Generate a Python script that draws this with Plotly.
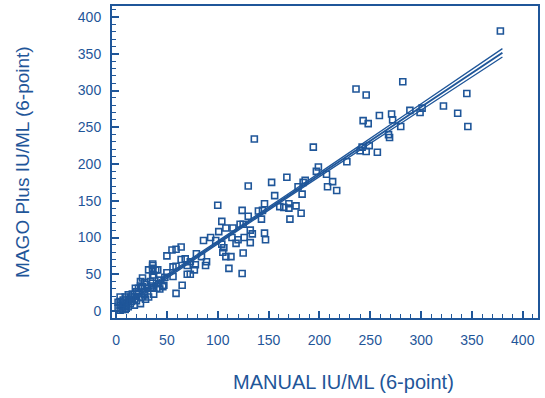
import plotly.graph_objects as go

# Scatter data: MANUAL IU/ML (x) vs MAGO Plus IU/ML (y)
manual = [
    378, 282, 345, 289, 301, 299, 322, 336, 346, 280,
    236, 246, 259, 271, 272, 243, 248, 268, 269, 194, 242, 240, 246, 249, 257, 227, 199, 197, 207, 186, 184, 179, 213, 208, 217, 183,
    136,
    168, 153, 130, 156, 100, 146, 124, 140, 144, 130, 143, 161, 165, 170, 170, 177, 182, 171, 104, 108, 101, 115, 122, 125, 132, 134, 146, 147,
    86, 93, 98, 114, 120, 126, 118, 132, 104, 106, 105, 108, 113, 125, 84, 89, 88, 111, 124,
    64, 59, 55, 50, 79, 64, 68, 73, 78, 70, 56, 59, 36, 41, 36, 56, 70, 73, 77, 48, 36, 42, 47, 35, 43, 37, 65, 59,
    36, 36, 32, 39, 37, 26, 24, 28, 26, 22, 19, 31, 36, 40, 46, 20, 16, 25, 9, 12, 7, 4, 15, 10, 6, 12, 4, 9, 18, 24, 29, 32, 4, 4, 14,
    8, 2, 6, 10, 14, 20, 18, 22, 28, 30, 34, 44, 50, 24, 16, 12, 6, 2, 28,
]
mago = [
    381, 312, 296, 273, 276, 270, 279, 269, 251, 251,
    302, 294, 266, 268, 260, 259, 255, 240, 236, 223, 223, 218, 217, 225, 216, 203, 196, 190, 186, 178, 175, 169, 176, 169, 164, 159,
    234,
    182, 175, 170, 157, 144, 146, 137, 136, 137, 129, 125, 142, 141, 146, 140, 143, 133, 125, 122, 113, 108, 113, 118, 118, 110, 105, 106, 97,
    96, 100, 96, 100, 97, 100, 92, 93, 91, 86, 80, 74, 74, 79, 74, 67, 62, 58, 51,
    87, 84, 83, 75, 78, 70, 71, 67, 63, 62, 60, 61, 62, 56, 55, 47, 50, 50, 56, 46, 46, 37, 35, 34, 30, 23, 35, 24,
    64, 58, 56, 56, 49, 45, 40, 39, 33, 31, 31, 31, 32, 31, 33, 26, 23, 19, 19, 16, 15, 13, 13, 10, 6, 6, 1, 2, 8, 10, 16, 19, 19, 8, 19,
    8, 4, 12, 4, 10, 14, 20, 24, 26, 36, 40, 42, 52, 34, 16, 22, 2, 12, 22,
]

# Regression line and confidence band
band_x = [3, 50, 110, 200, 290, 380]
fit_y = [3.8, 47.1, 102.4, 185.4, 268.4, 351.4]
upper_y = [6.8, 49.4, 104.3, 188.0, 272.4, 357.0]
lower_y = [0.8, 44.8, 100.5, 182.8, 264.4, 345.6]

x_ticks = [0, 50, 100, 150, 200, 250, 300, 350, 400]
y_ticks = [0, 50, 100, 150, 200, 250, 300, 350, 400]

BLUE = "#1f5699"
FONT = "Liberation Sans"

fig = go.Figure()
for ys, w in ((upper_y, 1.3), (lower_y, 1.3), (fit_y, 2.0)):
    fig.add_trace(go.Scatter(x=band_x, y=ys, mode="lines", line=dict(color=BLUE, width=w, shape="spline"),
                             hoverinfo="skip", showlegend=False))
fig.add_trace(go.Scatter(x=manual, y=mago, mode="markers",
                         marker=dict(symbol="square-open", size=6, color=BLUE, line=dict(color=BLUE, width=1.6)),
                         showlegend=False))

axis_common = dict(
    showline=True, linecolor=BLUE, linewidth=2, mirror=True,
    showgrid=False, zeroline=False,
    ticks="inside", ticklen=7, tickwidth=1.5, tickcolor=BLUE,
    minor=dict(ticks="inside", ticklen=4, tickwidth=1.2, tickcolor=BLUE, dtick=10, showgrid=False),
    tickfont=dict(family=FONT, size=14, color=BLUE),
    tickmode="array",
)
fig.update_xaxes(range=[-4, 415], tickvals=x_ticks, ticktext=[str(v) for v in x_ticks],
                 ticklabelstandoff=8, **axis_common)
fig.update_yaxes(range=[-9.5, 415], tickvals=y_ticks, ticktext=[str(v) for v in y_ticks],
                 ticklabelstandoff=6, **axis_common)

fig.update_layout(
    width=545, height=398,
    margin=dict(l=112, r=7, t=4, b=80),
    plot_bgcolor="white", paper_bgcolor="white",
    font=dict(family=FONT, color=BLUE),
    annotations=[
        dict(text="MANUAL IU/ML (6-point)", xref="paper", yref="paper", x=0.5425, y=-0.204,
             xanchor="center", yanchor="middle", showarrow=False, font=dict(family=FONT, size=20, color=BLUE)),
        dict(text="MAGO Plus IU/ML (6-point)", xref="paper", yref="paper", x=-0.2115, y=0.5,
             xanchor="center", yanchor="middle", textangle=-90, showarrow=False,
             font=dict(family=FONT, size=19, color=BLUE)),
    ],
)

fig.write_html("out.html", config={"displayModeBar": False},
               post_script="document.body.style.margin='0px';document.body.style.overflow='hidden';")
